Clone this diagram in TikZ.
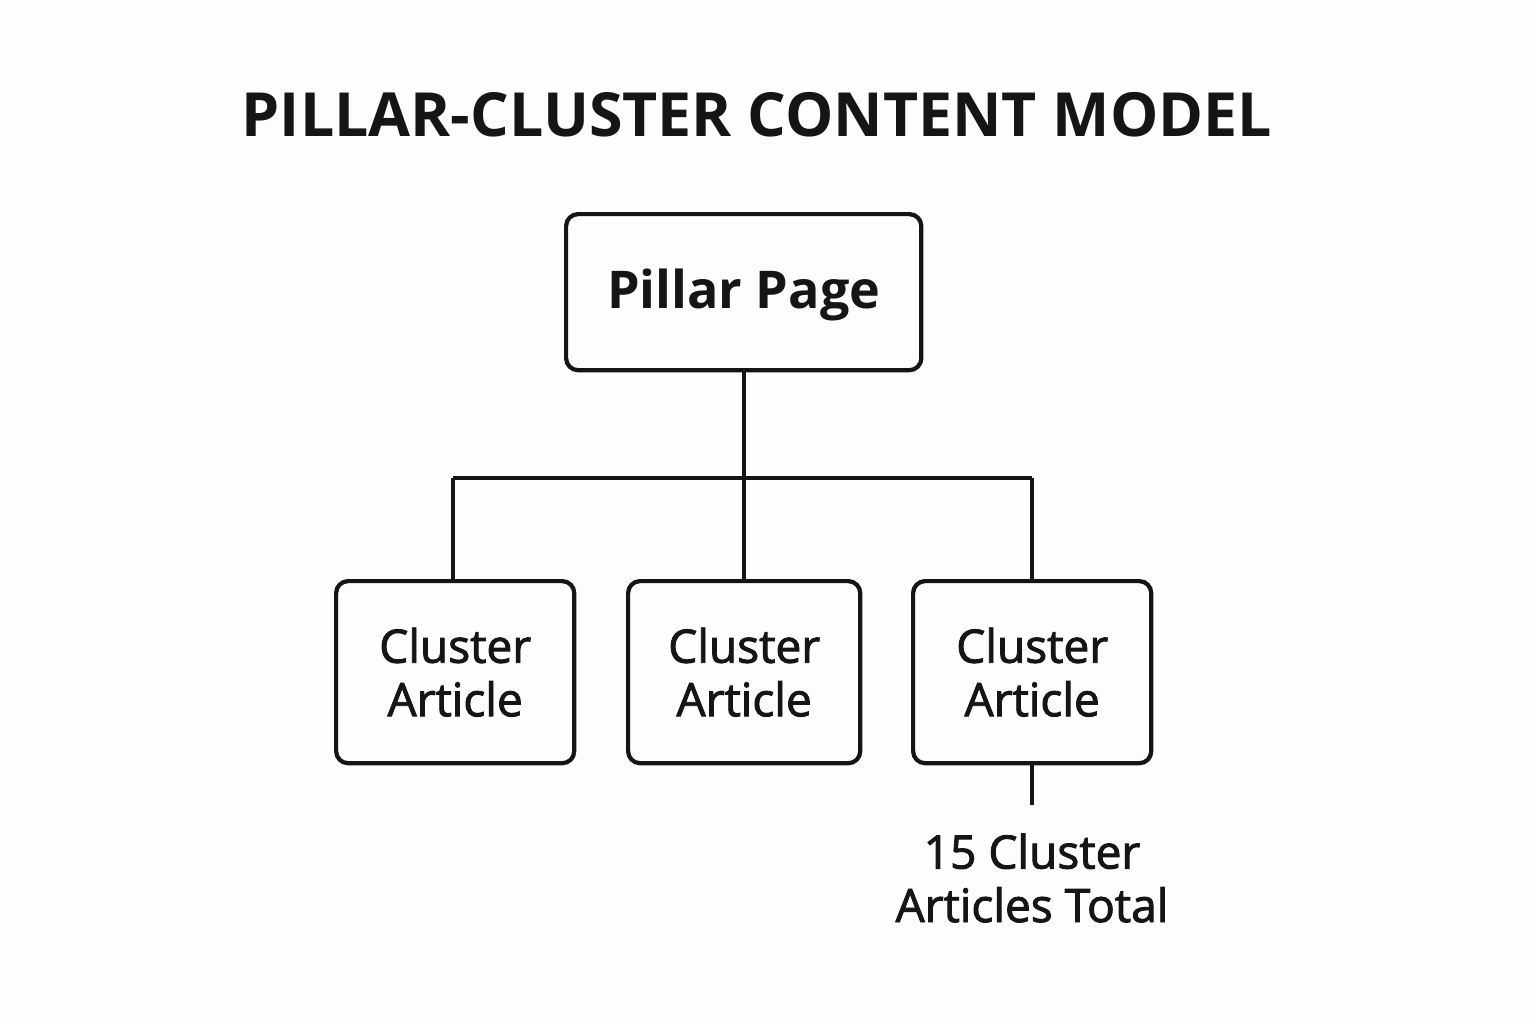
\documentclass[tikz,border=0pt]{standalone}
\usepackage{fontspec}
\setmainfont{Open Sans}[BoldFont={Open Sans Bold}]
\newfontfamily\semib{Open Sans}[FakeBold=2]
\definecolor{bg}{HTML}{FDFDFB}
\definecolor{ink}{HTML}{151515}
\begin{document}
\begin{tikzpicture}[x=0.01cm,y=-0.01cm,
  box/.style={draw=ink,line width=1.2pt,rounded corners=0.12cm,inner sep=0pt,anchor=north west,text=ink},
  conn/.style={draw=ink,line width=1.2pt},
  cl/.style={font=\semib\fontsize{13.1}{15.2}\selectfont,align=center,text=ink}]
\fill[bg] (0,0) rectangle (1536,1024);
\useasboundingbox (0,0) rectangle (1536,1024);
\node[text=ink,font=\bfseries\fontsize{17.3}{20}\selectfont] (title) at (757,115) {PILLAR-CLUSTER CONTENT MODEL};
\node[box,minimum height=1.56cm,minimum width=3.55cm] (pillar) at (564,212) {};
\node[text=ink,font=\bfseries\fontsize{14.8}{20}\selectfont] (pt) at ([yshift=-0.03cm]pillar.center) {Pillar Page};
\node[box,minimum width=2.38cm,minimum height=1.82cm] (c1) at (334,579) {};
\node[box,minimum width=2.32cm,minimum height=1.82cm] (c2) at (626,579) {};
\node[box,minimum width=2.38cm,minimum height=1.82cm] (c3) at (911,579) {};
\node[cl] at (c1.center) {Cluster\\Article};
\node[cl] at (c2.center) {Cluster\\Article};
\node[cl] at (c3.center) {Cluster\\Article};
\coordinate (hl) at (453,478);
\coordinate (hr) at (1032,478);
\coordinate (tail) at (1032,805);
\draw[conn] (pillar.south) -- (pillar.south |- c2.north);
\draw[conn] (hl) -- (hr);
\draw[conn] (hl) -- (hl |- c1.north);
\draw[conn] (hr) -- (hr |- c3.north);
\draw[conn] (c3.south -| tail) -- (tail);
\node[cl] (total) at (1032,878) {15 Cluster\\Articles Total};
\end{tikzpicture}
\end{document}
